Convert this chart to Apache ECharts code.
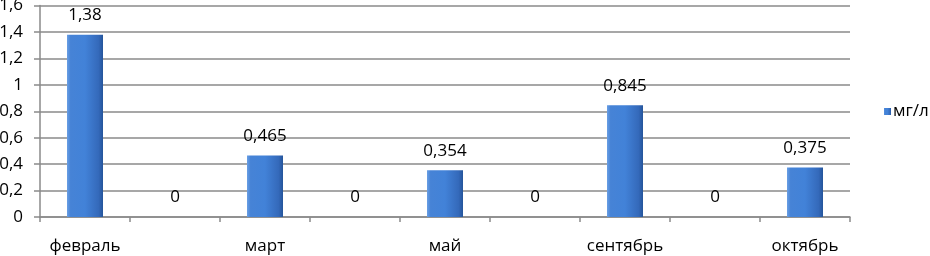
<!DOCTYPE html>
<html><head><meta charset="utf-8">
<script src="https://cdn.jsdelivr.net/npm/echarts@6/dist/echarts.min.js"></script>
<style>html,body{margin:0;padding:0;background:#fff}#c{width:930px;height:256px}</style>
</head><body><div id="c"></div>
<script>
var categories = ['февраль', '', 'март', '', 'май', '', 'сентябрь', '', 'октябрь'];
var values = [1.38, 0, 0.465, 0, 0.354, 0, 0.845, 0, 0.375];
var seriesName = 'мг/л';
var yMin = 0, yMax = 1.6, yStep = 0.2;

var fontFam = '"Open Sans", Lato, sans-serif';
var chart = echarts.init(document.getElementById('c'), null, {renderer: 'canvas'});
function comma(v) { return String(v).replace('.', ','); }
chart.setOption({
  animation: false,
  textStyle: {fontFamily: fontFam},
  grid: {left: 40, right: 80, top: 5.6, bottom: 39, containLabel: false, outerBoundsMode: 'none'},
  legend: {
    data: [seriesName], left: 884, top: 103, padding: 0, icon: 'rect', itemWidth: 7, itemHeight: 7, itemGap: 2,
    textStyle: {fontFamily: fontFam, fontSize: 17, color: '#000', padding: [0, 0, 0, -3]}
  },
  xAxis: {
    type: 'category', data: categories,
    axisLine: {lineStyle: {color: '#8a8a8a', width: 1.5}},
    axisTick: {show: true, length: 5, lineStyle: {color: '#8a8a8a', width: 1.5}, alignWithLabel: false},
    axisLabel: {interval: 0, margin: 21, fontSize: 17, color: '#000', fontFamily: fontFam},
    splitLine: {show: false}
  },
  yAxis: {
    type: 'value', min: yMin, max: yMax, interval: yStep,
    axisLine: {show: true, lineStyle: {color: '#8a8a8a', width: 1.5}},
    axisTick: {show: true, length: 6, lineStyle: {color: '#8a8a8a', width: 1.5}},
    axisLabel: {fontSize: 17, color: '#000', margin: 17, fontFamily: fontFam, formatter: function (v) { return comma(Math.round(v * 10) / 10); }},
    splitLine: {lineStyle: {color: '#8a8a8a', width: 1.5}}
  },
  series: [{
    name: seriesName, type: 'bar', data: values, barWidth: '40%',
    itemStyle: {
      color: new echarts.graphic.LinearGradient(0, 0, 1, 0, [
        {offset: 0, color: '#6a9fe4'},
        {offset: 0.1, color: '#4683d6'},
        {offset: 0.5, color: '#4282d8'},
        {offset: 0.88, color: '#3469ba'},
        {offset: 1, color: '#24549a'}
      ])
    },
    label: {show: true, position: 'top', distance: 11, fontSize: 17, color: '#000', fontFamily: fontFam,
      formatter: function (p) { return comma(p.value); }}
  }]
});
</script></body></html>
